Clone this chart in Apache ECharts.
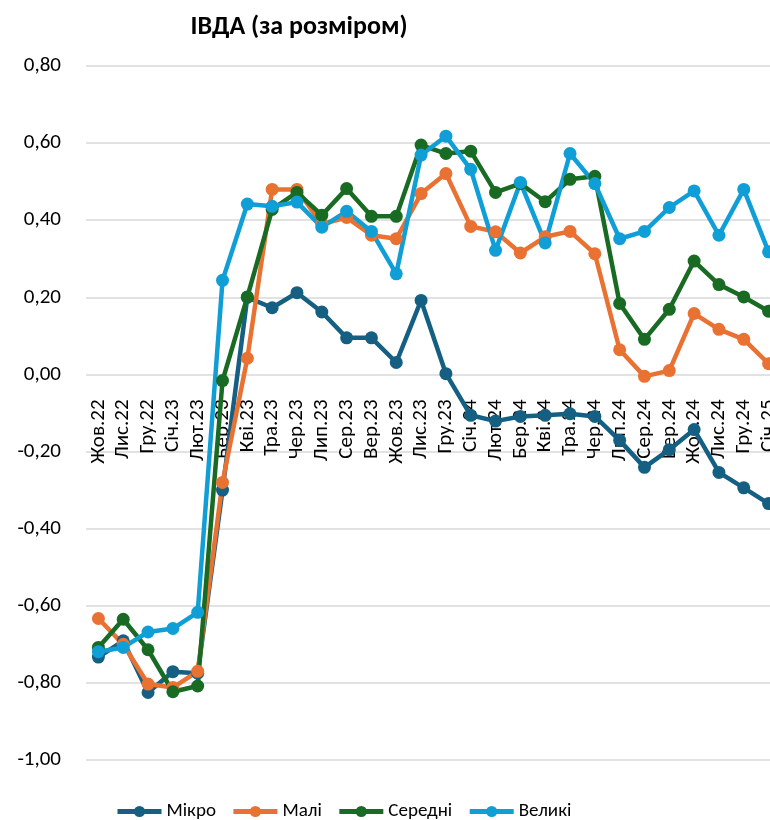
<!DOCTYPE html>
<html>
<head>
<meta charset="utf-8">
<script src="https://cdn.jsdelivr.net/npm/echarts@6/dist/echarts.min.js"></script>
<style>
html,body{margin:0;padding:0;background:#fff;}
#chart{width:770px;height:820px;}
</style>
</head>
<body>
<div id="chart"></div>
<script>
const categories = ['Жов.22','Лис.22','Гру.22','Січ.23','Лют.23','Бер.23','Кві.23','Тра.23','Чер.23','Лип.23','Сер.23','Вер.23','Жов.23','Лис.23','Гру.23','Січ.24','Лют.24','Бер.24','Кві.24','Тра.24','Чер.24','Лип.24','Сер.24','Вер.24','Жов.24','Лис.24','Гру.24','Січ.25'];
const micro  = [-0.733,-0.691,-0.825,-0.771,-0.775,-0.30,0.200,0.173,0.212,0.162,0.095,0.095,0.031,0.192,0.002,-0.106,-0.121,-0.109,-0.106,-0.102,-0.109,-0.171,-0.241,-0.195,-0.143,-0.254,-0.294,-0.335];
const small  = [-0.633,-0.700,-0.803,-0.812,-0.770,-0.28,0.042,0.480,0.480,0.390,0.407,0.361,0.352,0.469,0.521,0.384,0.370,0.315,0.357,0.371,0.313,0.064,-0.005,0.010,0.158,0.117,0.091,0.028];
const medium = [-0.708,-0.635,-0.714,-0.823,-0.808,-0.016,0.201,0.428,0.472,0.413,0.482,0.410,0.410,0.595,0.573,0.579,0.472,0.495,0.448,0.506,0.514,0.184,0.091,0.169,0.294,0.233,0.201,0.164];
const large  = [-0.719,-0.708,-0.668,-0.659,-0.617,0.244,0.442,0.436,0.447,0.382,0.423,0.371,0.261,0.569,0.618,0.532,0.322,0.498,0.341,0.573,0.495,0.352,0.371,0.433,0.476,0.361,0.480,0.318];
const seriesNames = ['Мікро','Малі','Середні','Великі'];
const yTicks = {min:-1.0, max:0.8, interval:0.2};

const FONT = 'Carlito, Lato, "Noto Sans", sans-serif';
const colors = ['#156082','#E97132','#196B24','#0F9ED5'];
const dataSets = [micro, small, medium, large];

const chart = echarts.init(document.getElementById('chart'), null, {renderer:'canvas'});
chart.setOption({
  animation:false,
  color: colors,
  title:{
    text:'ІВДА (за розміром)',
    left:294, top:9, textAlign:'center',
    textStyle:{fontFamily:FONT, fontWeight:'bold', fontSize:26, color:'#000'}
  },
  legend:{
    data: seriesNames,
    left:110, top:797,
    itemWidth:44, itemHeight:14, itemGap:15,
    lineStyle:{width:5},
    textStyle:{fontFamily:FONT, fontSize:19, color:'#000'}
  },
  grid:{left:86, right:-11, top:66, bottom:60, containLabel:false, outerBoundsMode:'none'},
  xAxis:{
    type:'category',
    data:categories,
    boundaryGap:true,
    z:3,
    offset:0,
    axisLine:{show:true, onZero:true, lineStyle:{color:'#d9d9d9', width:1.5, opacity:0}},
    axisTick:{show:false},
    axisLabel:{interval:0, rotate:90, margin:25, fontFamily:FONT, fontSize:21, color:'#000'}
  },
  yAxis:{
    type:'value',
    min:yTicks.min, max:yTicks.max, interval:yTicks.interval,
    axisLine:{show:false},
    axisTick:{show:false},
    splitLine:{lineStyle:{color:'#d9d9d9', width:1.5}},
    axisLabel:{margin:25, fontFamily:FONT, fontSize:21, color:'#000',
      formatter:v=>v.toFixed(2).replace('.',',')}
  },
  series: seriesNames.map((n,i)=>({
    name:n, type:'line', data:dataSets[i],
    symbol:'circle', symbolSize:13,
    lineStyle:{width:4.5, color:colors[i]},
    itemStyle:{color:colors[i]},
    emphasis:{disabled:true}
  }))
});
// place the category axis at y = 0 (derived from the value axis scale)
const yZero = chart.convertToPixel({yAxisIndex:0}, 0);
const yBottom = chart.convertToPixel({yAxisIndex:0}, yTicks.min);
if (Math.abs(yZero - yBottom) > 1) {
  chart.setOption({xAxis:{offset: yZero - yBottom, axisLine:{onZero:false}}});
}
</script>
</body>
</html>
